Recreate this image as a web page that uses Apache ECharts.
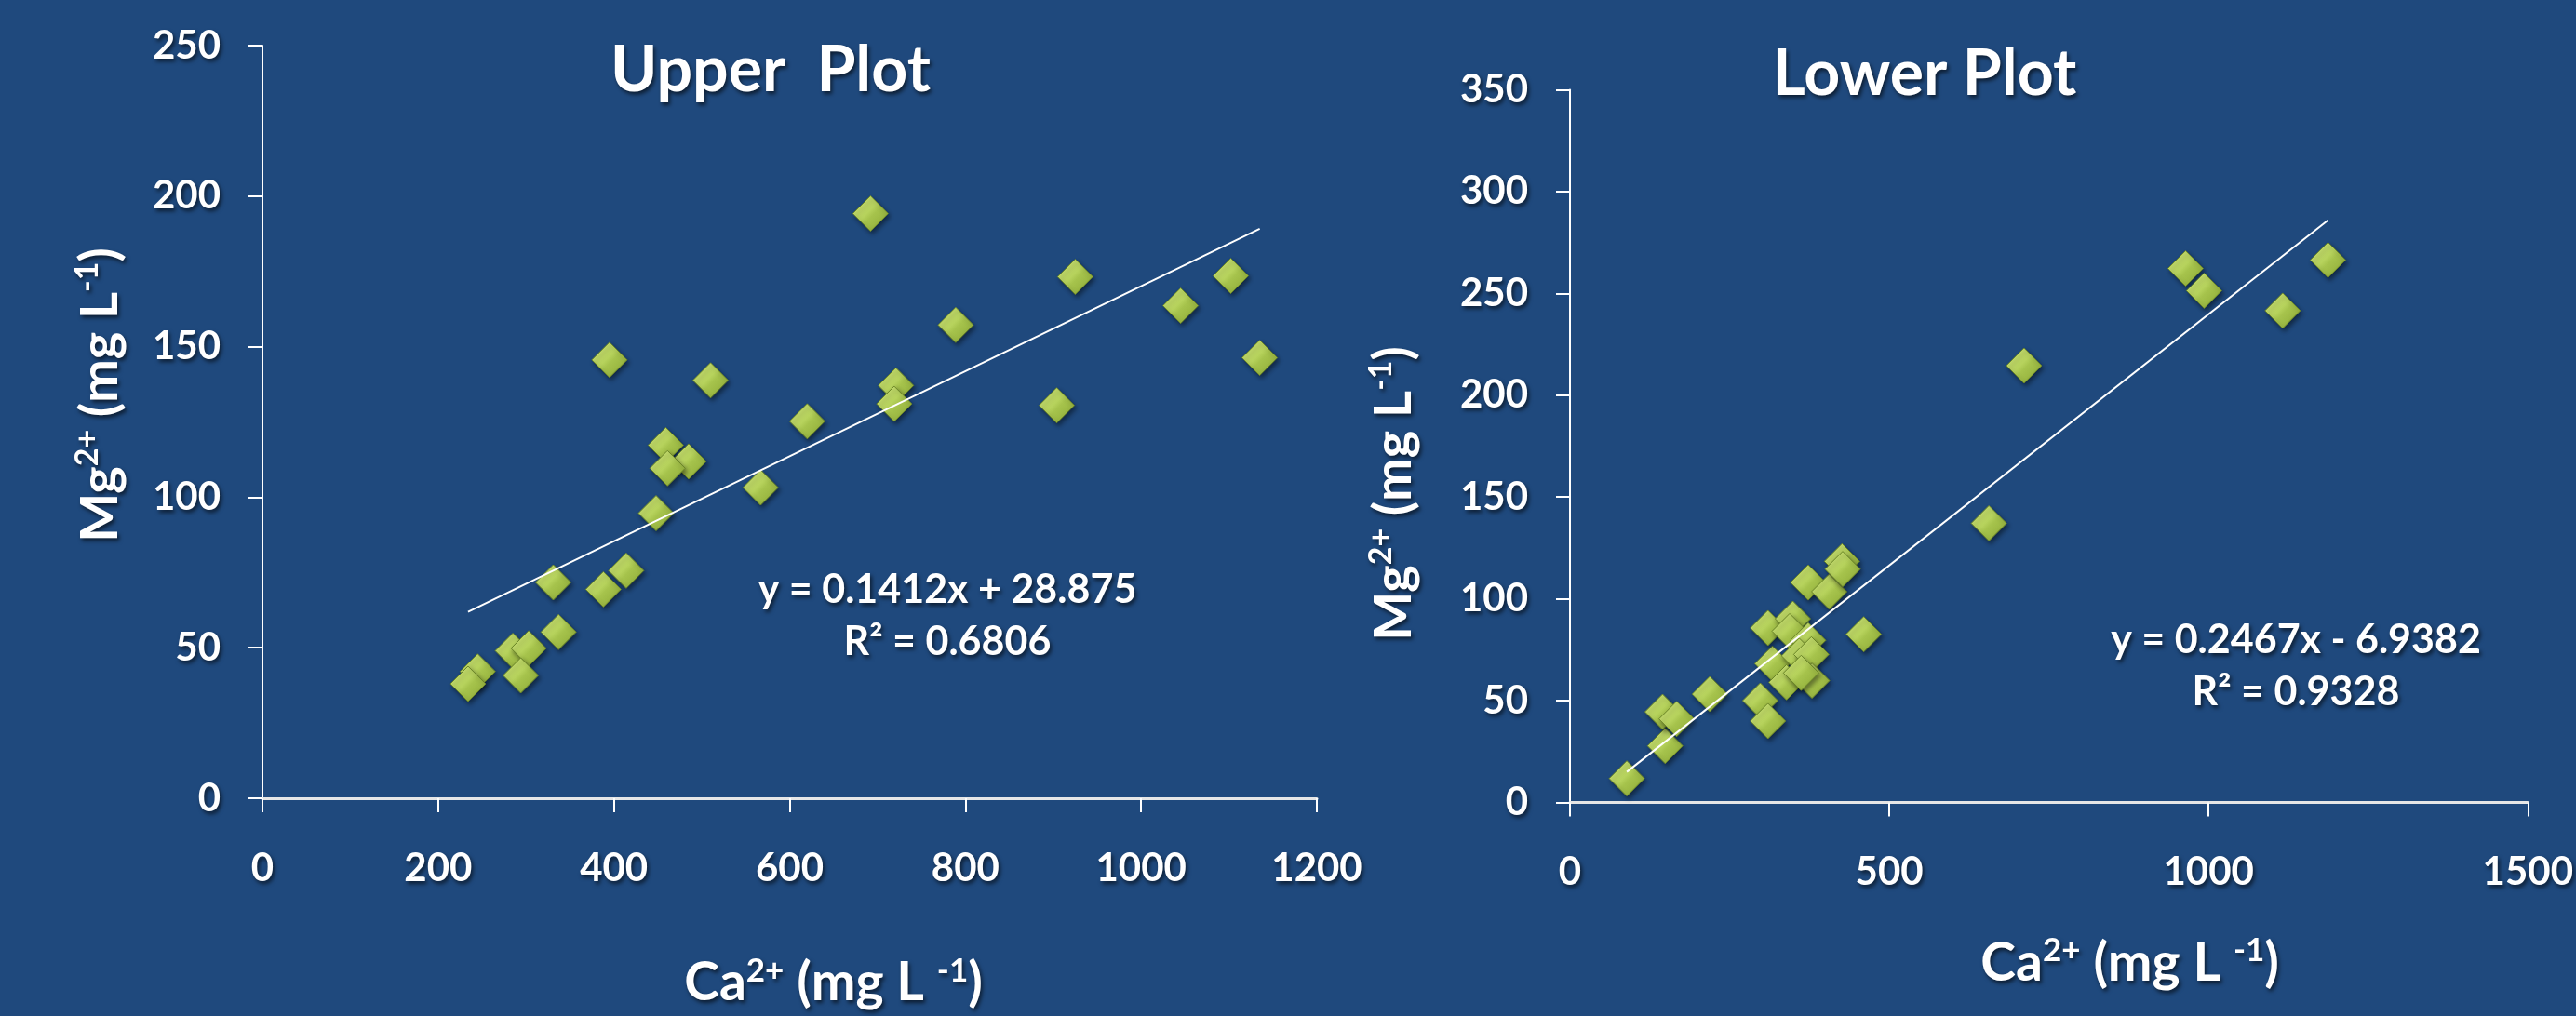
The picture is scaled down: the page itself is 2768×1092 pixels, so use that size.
<!DOCTYPE html>
<html>
<head>
<meta charset="utf-8">
<script src="https://cdn.jsdelivr.net/npm/echarts@6/dist/echarts.min.js"></script>
<style>
html,body{margin:0;padding:0;background:#1F497D;}
#c{width:2768px;height:1092px;}
</style>
</head>
<body>
<div id="c"></div>
<script>
// ---- Upper plot data ----
const upperCa = [692, 395, 510, 925, 789, 1102, 1045, 1135, 721, 719, 904, 620, 459, 485, 461, 567, 448, 414, 331, 388, 337, 285, 303, 294, 245, 234];
const upperMg = [194.2, 145.6, 138.8, 173.2, 157.2, 173.5, 163.6, 146.3, 137.1, 131.0, 130.5, 125.2, 117.3, 111.9, 109.6, 103.2, 94.7, 75.6, 71.7, 69.4, 55.2, 49.0, 49.8, 40.8, 42.1, 38.0];
const upperFit = [0.1412, 28.875];
const upperEq = ['y = 0.1412x + 28.875', 'R² = 0.6806'];
const upperXTicks = [0, 200, 400, 600, 800, 1000, 1200];
const upperYTicks = [0, 50, 100, 150, 200, 250];

// ---- Lower plot data ----
const lowerCa = [89, 149, 145, 167, 219, 298, 310, 317, 310, 349, 344, 373, 359, 378, 339, 379, 362, 373, 406, 426, 427, 460, 656, 711, 964, 993, 1116, 1187];
const lowerMg = [11.8, 27.8, 44.5, 41.0, 53.2, 50.0, 40.0, 68.2, 85.7, 90.2, 84.1, 79.6, 72.0, 72.7, 59.0, 59.8, 63.6, 108.0, 103.5, 118.4, 114.6, 82.6, 137.1, 214.5, 262.2, 251.3, 241.5, 266.4];
const lowerFit = [0.2467, -6.9382];
const lowerEq = ['y = 0.2467x - 6.9382', 'R² = 0.9328'];
const lowerXTicks = [0, 500, 1000, 1500];
const lowerYTicks = [0, 50, 100, 150, 200, 250, 300, 350];

const titles = ['Upper  Plot', 'Lower Plot'];

const FONT = 'Lato, "Open Sans", sans-serif';
const SH = {textShadowColor: 'rgba(0,0,0,0.6)', textShadowBlur: 4, textShadowOffsetX: 2, textShadowOffsetY: 3};

function pairs(xs, ys) { return xs.map((x, i) => [x, ys[i]]); }
function fitLine(xs, fit) {
  const lo = Math.min.apply(null, xs), hi = Math.max.apply(null, xs);
  return [[lo, fit[0] * lo + fit[1]], [hi, fit[0] * hi + fit[1]]];
}

const markerColor = {
  type: 'linear', x: 0, y: 0, x2: 1, y2: 1,
  colorStops: [
    {offset: 0, color: '#D2E77E'},
    {offset: 0.45, color: '#B6D25C'},
    {offset: 0.55, color: '#A6C34C'},
    {offset: 1, color: '#8AA734'}
  ]
};

function tickFmt(v) { return String(v); }

function xAxis(gi, ticks, gap, shift) {
  return {
    type: 'value', gridIndex: gi,
    min: ticks[0], max: ticks[ticks.length - 1], interval: ticks[1] - ticks[0],
    splitLine: {show: false},
    axisLine: {show: true, lineStyle: {color: '#E6E6E6', width: 3}},
    axisTick: {show: true, inside: false, length: 15, lineStyle: {color: '#FFFFFF', width: 2}},
    axisLabel: Object.assign({color: '#FFFFFF', fontFamily: FONT, fontWeight: 'bold', fontSize: 42, margin: 54, formatter: tickFmt}, SH),
    name: '{a|Ca}{s|2+}{a| (mg L }{s|-1}{a|)}',
    nameLocation: 'middle', nameGap: gap,
    nameTextStyle: {
      padding: [0, 0, 0, shift],
      rich: {
        a: Object.assign({color: '#FFFFFF', fontFamily: FONT, fontWeight: 'bold', fontSize: 57, lineHeight: 62}, SH),
        s: Object.assign({color: '#FFFFFF', fontFamily: FONT, fontWeight: 'bold', fontSize: 35, lineHeight: 35, verticalAlign: 'top'}, SH)
      }
    }
  };
}
function yAxis(gi, ticks, gap, pad) {
  return {
    type: 'value', gridIndex: gi,
    min: ticks[0], max: ticks[ticks.length - 1], interval: ticks[1] - ticks[0],
    splitLine: {show: false},
    axisLine: {show: true, lineStyle: {color: '#FFFFFF', width: 2}},
    axisTick: {show: true, inside: false, length: 15, lineStyle: {color: '#FFFFFF', width: 2}},
    axisLabel: Object.assign({color: '#FFFFFF', fontFamily: FONT, fontWeight: 'bold', fontSize: 42, margin: 45, formatter: tickFmt}, SH),
    name: '{a|Mg}{s|2+}{a| (mg L}{s|-1}{a|)}',
    nameLocation: 'middle', nameGap: gap,
    nameTextStyle: {
      padding: pad,
      rich: {
        a: Object.assign({color: '#FFFFFF', fontFamily: FONT, fontWeight: 'bold', fontSize: 56, lineHeight: 62}, SH),
        s: Object.assign({color: '#FFFFFF', fontFamily: FONT, fontWeight: 'bold', fontSize: 34, lineHeight: 34, verticalAlign: 'top'}, SH)
      }
    }
  };
}
function scatter(gi, xs, ys) {
  return {
    type: 'scatter', xAxisIndex: gi, yAxisIndex: gi,
    data: pairs(xs, ys), symbol: 'diamond', symbolSize: [38, 38],
    itemStyle: {
      color: markerColor, borderColor: '#6A8527', borderWidth: 1,
      shadowColor: 'rgba(0,0,0,0.45)', shadowBlur: 5, shadowOffsetX: 2, shadowOffsetY: 3, opacity: 1
    },
    z: 2
  };
}
function trend(gi, xs, fit) {
  return {
    type: 'line', xAxisIndex: gi, yAxisIndex: gi,
    data: fitLine(xs, fit), symbol: 'none', silent: true,
    lineStyle: {color: '#FFFFFF', width: 2}, z: 3
  };
}
function titleItem(text, cx, cy) {
  return {
    text: text, left: cx, top: cy, textAlign: 'center', textVerticalAlign: 'middle', padding: 0,
    textStyle: Object.assign({color: '#FFFFFF', fontFamily: FONT, fontWeight: 'bold', fontSize: 68}, SH)
  };
}
function eqText(lines, cx, cy) {
  return {
    type: 'text', x: cx, y: cy, silent: true,
    style: Object.assign({
      text: lines.join('\n'), align: 'center', verticalAlign: 'middle',
      fill: '#FFFFFF', fontFamily: FONT, fontWeight: 'bold', fontSize: 43, lineHeight: 56
    }, SH)
  };
}

const chart = echarts.init(document.getElementById('c'), null, {renderer: 'canvas'});
chart.setOption({
  backgroundColor: '#1F497D',
  animation: false,
  title: [titleItem(titles[0], 828, 76), titleItem(titles[1], 2068, 80)],
  grid: [
    {left: 282, top: 49, width: 1133, height: 809, containLabel: false},
    {left: 1687, top: 96.4, width: 1030.6, height: 766.1, containLabel: false}
  ],
  xAxis: [xAxis(0, upperXTicks, 168, 94), xAxis(1, lowerXTicks, 142, 174)],
  yAxis: [yAxis(0, upperYTicks, 143, [0, 0, 0, 58]), yAxis(1, lowerYTicks, 158, [0, 102, 0, 0])],
  series: [
    scatter(0, upperCa, upperMg),
    trend(0, upperCa, upperFit),
    scatter(1, lowerCa, lowerMg),
    trend(1, lowerCa, lowerFit)
  ],
  graphic: [eqText(upperEq, 1018, 662), eqText(lowerEq, 2467, 716)]
});
</script>
</body>
</html>
